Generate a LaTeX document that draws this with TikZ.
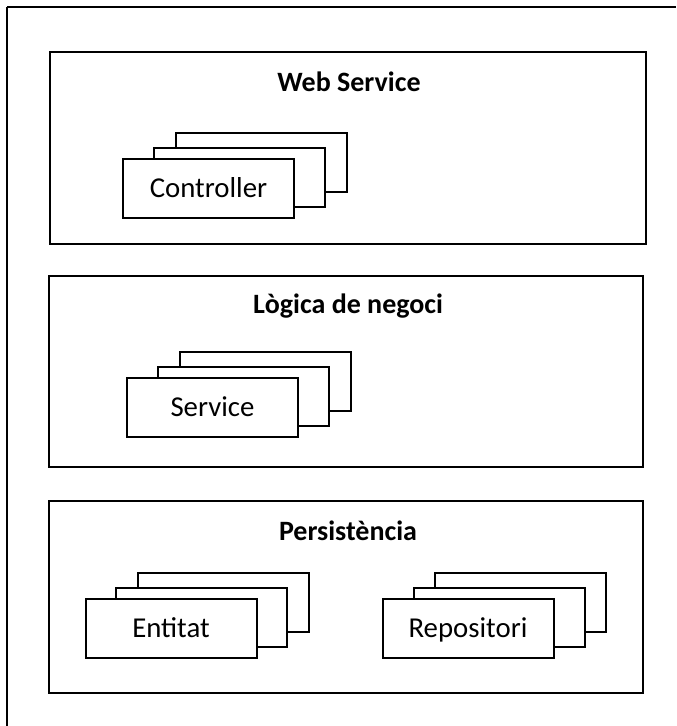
\documentclass[tikz,border=0pt]{standalone}
\usepackage{fontspec}
\setmainfont{Carlito}
\begin{document}
\begin{tikzpicture}[x=0.75pt,y=-0.75pt,
  layerbox/.style={draw=black,line width=1.5pt,fill=white,minimum width=#1,inner sep=0pt},
  card/.style={draw=black,line width=1.5pt,fill=white,minimum width=128.25pt,minimum height=44.25pt,inner sep=0pt},
  title/.style={font=\fontsize{21}{25}\selectfont\bfseries,anchor=base,inner sep=0pt},
  lbl/.style={font=\fontsize{21.6}{26}\selectfont,anchor=base,inner sep=0pt}]
\path[use as bounding box] (0,0) rectangle (676,726);
% outer frame (open on right and bottom)
\coordinate (fb) at (7,726);
\coordinate (ftl) at (7,7);
\coordinate (fr) at (676,7);
\draw[line width=1.3pt,line cap=butt] (fb) -- (ftl);
\draw[line width=1.3pt,line cap=butt] (ftl) -- (fr);
% layers
\node[layerbox=447pt,minimum height=144pt] (ws) at (348,148) {};
\node[layerbox=445.5pt,minimum height=143.25pt] (lg) at (346,371.5) {};
\node[layerbox=445.5pt,minimum height=144pt] (ps) at (346,597) {};
\node[title] (wst) at (349,91) {Web Service};
\node[title] (lgt) at (348,313) {Lògica de negoci};
\node[title] (pst) at (348,540) {Persistència};
% Controller stack
\node[card] (c3) at (261,162.5) {};
\node[card] (c2) at (239.5,177.5) {};
\node[card] (c1) at (208.5,188.5) {};
\node[lbl] (cl) at (208.5,197) {Controller};
% Service stack
\node[card] (s3) at (265,381.5) {};
\node[card] (s2) at (243.5,396.5) {};
\node[card] (s1) at (212.5,407.5) {};
\node[lbl] (sl) at (212.5,416) {Service};
% Entitat stack
\node[card] (e3) at (223.5,602) {};
\node[card] (e2) at (201.5,617.5) {};
\node[card] (e1) at (171,628.5) {};
\node[lbl] (el) at (171,637) {Entitat};
% Repositori stack
\node[card] (r3) at (520.5,602) {};
\node[card] (r2) at (499,617.5) {};
\node[card] (r1) at (468,628.5) {};
\node[lbl] (rl) at (468,637) {Repositori};
\end{tikzpicture}
\end{document}
